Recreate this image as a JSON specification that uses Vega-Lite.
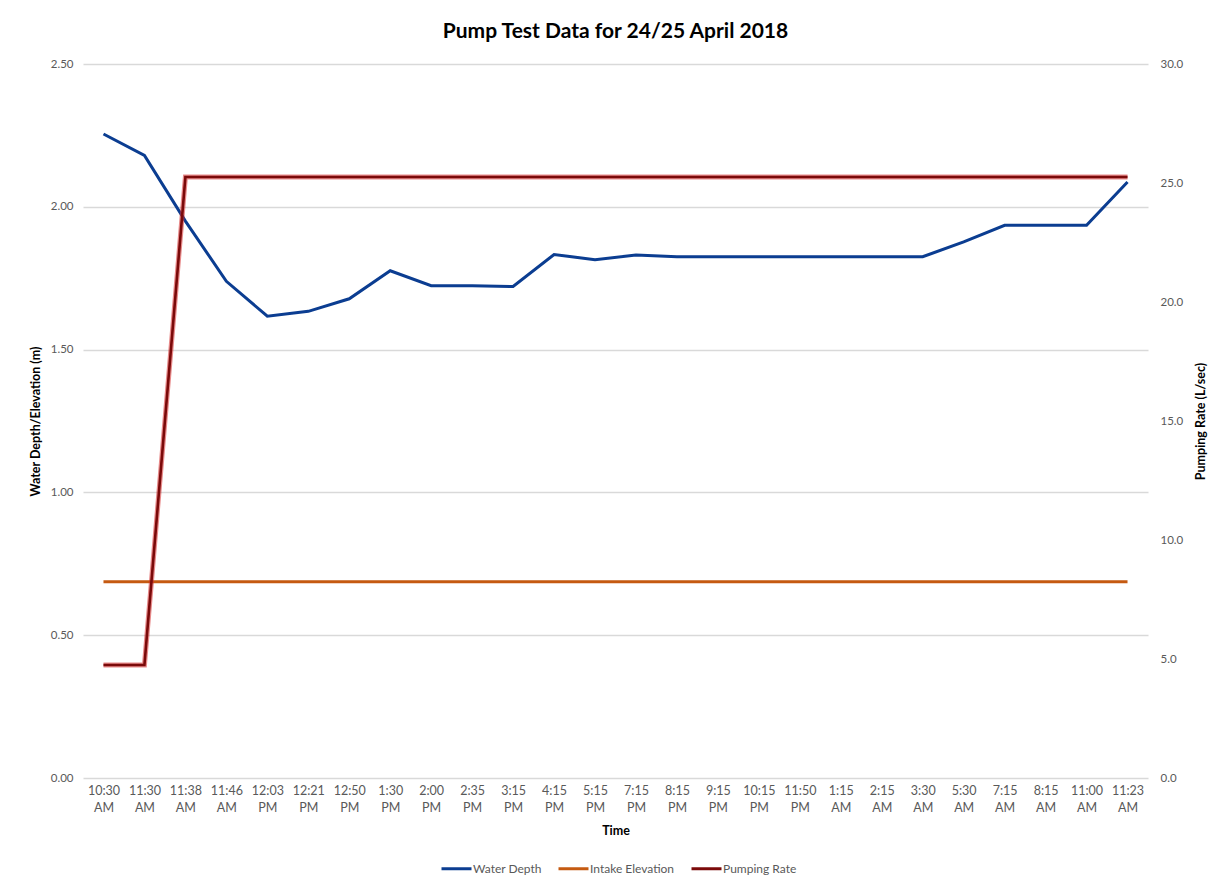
{
  "$schema": "https://vega.github.io/schema/vega-lite/v6.json",
  "width": 1065,
  "height": 714,
  "autosize": {"type": "none"},
  "padding": {"left": 83, "top": 64, "right": 65, "bottom": 108},
  "background": "white",
  "config": {"font": "Lato", "view": {"stroke": null}},
  "title": {"text": "Pump Test Data for 24/25 April 2018", "fontSize": 21, "fontWeight": "bold", "color": "#000000", "offset": 16, "anchor": "middle"},
  "data": {"values": [
    {"t": "10:30 AM", "Water Depth": 2.255, "Intake Elevation": 0.687, "Pumping Rate": 4.75},
    {"t": "11:30 AM", "Water Depth": 2.18, "Intake Elevation": 0.687, "Pumping Rate": 4.75},
    {"t": "11:38 AM", "Water Depth": 1.95, "Intake Elevation": 0.687, "Pumping Rate": 25.25},
    {"t": "11:46 AM", "Water Depth": 1.739, "Intake Elevation": 0.687, "Pumping Rate": 25.25},
    {"t": "12:03 PM", "Water Depth": 1.617, "Intake Elevation": 0.687, "Pumping Rate": 25.25},
    {"t": "12:21 PM", "Water Depth": 1.634, "Intake Elevation": 0.687, "Pumping Rate": 25.25},
    {"t": "12:50 PM", "Water Depth": 1.678, "Intake Elevation": 0.687, "Pumping Rate": 25.25},
    {"t": "1:30 PM", "Water Depth": 1.776, "Intake Elevation": 0.687, "Pumping Rate": 25.25},
    {"t": "2:00 PM", "Water Depth": 1.724, "Intake Elevation": 0.687, "Pumping Rate": 25.25},
    {"t": "2:35 PM", "Water Depth": 1.724, "Intake Elevation": 0.687, "Pumping Rate": 25.25},
    {"t": "3:15 PM", "Water Depth": 1.721, "Intake Elevation": 0.687, "Pumping Rate": 25.25},
    {"t": "4:15 PM", "Water Depth": 1.833, "Intake Elevation": 0.687, "Pumping Rate": 25.25},
    {"t": "5:15 PM", "Water Depth": 1.815, "Intake Elevation": 0.687, "Pumping Rate": 25.25},
    {"t": "7:15 PM", "Water Depth": 1.831, "Intake Elevation": 0.687, "Pumping Rate": 25.25},
    {"t": "8:15 PM", "Water Depth": 1.825, "Intake Elevation": 0.687, "Pumping Rate": 25.25},
    {"t": "9:15 PM", "Water Depth": 1.825, "Intake Elevation": 0.687, "Pumping Rate": 25.25},
    {"t": "10:15 PM", "Water Depth": 1.825, "Intake Elevation": 0.687, "Pumping Rate": 25.25},
    {"t": "11:50 PM", "Water Depth": 1.825, "Intake Elevation": 0.687, "Pumping Rate": 25.25},
    {"t": "1:15 AM", "Water Depth": 1.825, "Intake Elevation": 0.687, "Pumping Rate": 25.25},
    {"t": "2:15 AM", "Water Depth": 1.825, "Intake Elevation": 0.687, "Pumping Rate": 25.25},
    {"t": "3:30 AM", "Water Depth": 1.825, "Intake Elevation": 0.687, "Pumping Rate": 25.25},
    {"t": "5:30 AM", "Water Depth": 1.877, "Intake Elevation": 0.687, "Pumping Rate": 25.25},
    {"t": "7:15 AM", "Water Depth": 1.935, "Intake Elevation": 0.687, "Pumping Rate": 25.25},
    {"t": "8:15 AM", "Water Depth": 1.935, "Intake Elevation": 0.687, "Pumping Rate": 25.25},
    {"t": "11:00 AM", "Water Depth": 1.935, "Intake Elevation": 0.687, "Pumping Rate": 25.25},
    {"t": "11:23 AM", "Water Depth": 2.087, "Intake Elevation": 0.687, "Pumping Rate": 25.25}
  ]},
  "transform": [{"fold": ["Water Depth", "Intake Elevation", "Pumping Rate"], "as": ["series", "value"]}],
  "encoding": {
    "x": {
      "field": "t", "type": "ordinal",
      "sort": ["10:30 AM", "11:30 AM", "11:38 AM", "11:46 AM", "12:03 PM", "12:21 PM", "12:50 PM", "1:30 PM", "2:00 PM", "2:35 PM", "3:15 PM", "4:15 PM", "5:15 PM", "7:15 PM", "8:15 PM", "9:15 PM", "10:15 PM", "11:50 PM", "1:15 AM", "2:15 AM", "3:30 AM", "5:30 AM", "7:15 AM", "8:15 AM", "11:00 AM", "11:23 AM"],
      "axis": {
        "title": "Time", "titleFontSize": 12.5, "titleFontWeight": "bold", "titleColor": "#000000", "titlePadding": 11,
        "labelAngle": 0, "labelExpr": "split(datum.label, ' ')", "labelFontSize": 12.5, "labelColor": "#595959",
        "labelLineHeight": 17, "labelPadding": 6, "ticks": false, "domain": false, "grid": false
      }
    },
    "color": {
      "field": "series", "type": "nominal",
      "scale": {"domain": ["Water Depth", "Intake Elevation", "Pumping Rate"], "range": ["#0b3d91", "#c55a11", "#7b0a0a"]},
      "legend": {
        "title": null, "orient": "none", "legendX": 357, "legendY": 788, "direction": "horizontal",
        "symbolType": "stroke", "symbolSize": 900, "symbolStrokeWidth": 3, "labelFontSize": 12, "labelColor": "#595959",
        "labelOffset": 0, "columnPadding": 10
      }
    }
  },
  "layer": [
    {
      "transform": [{"filter": "datum.series !== 'Pumping Rate'"}],
      "mark": {"type": "line", "strokeWidth": 3},
      "encoding": {
        "y": {
          "field": "value", "type": "quantitative", "scale": {"domain": [0, 2.5], "nice": false},
          "axis": {
            "title": "Water Depth/Elevation (m)", "titleFontSize": 12.5, "titleFontWeight": "bold", "titleColor": "#000000", "titlePadding": 8,
            "values": [0, 0.5, 1, 1.5, 2, 2.5], "format": ".2f", "grid": true, "gridColor": "#d9d9d9", "gridWidth": 1.3,
            "domain": false, "ticks": false, "labelPadding": 10, "labelFontSize": 11.5, "labelColor": "#595959"
          }
        }
      }
    },
    {
      "transform": [{"filter": "datum.series === 'Pumping Rate'"}],
      "mark": {"type": "line", "strokeWidth": 5, "color": "#d42a2a", "opacity": 0.55},
      "encoding": {
        "color": {"value": "#d42a2a"},
        "y": {"field": "value", "type": "quantitative", "scale": {"domain": [0, 30], "nice": false}, "axis": null}
      }
    },
    {
      "transform": [{"filter": "datum.series === 'Pumping Rate'"}],
      "mark": {"type": "line", "strokeWidth": 2.6},
      "encoding": {
        "y": {
          "field": "value", "type": "quantitative", "scale": {"domain": [0, 30], "nice": false},
          "axis": {
            "orient": "right", "title": "Pumping Rate (L/sec)", "titleFontSize": 12.5, "titleFontWeight": "bold", "titleColor": "#000000",
            "titleAngle": 270, "titleX": 56, "titleY": 357, "titleAlign": "center", "titleBaseline": "alphabetic",
            "values": [0, 5, 10, 15, 20, 25, 30], "format": ".1f", "grid": false,
            "domain": false, "ticks": false, "labelPadding": 12, "labelFontSize": 11.5, "labelColor": "#595959"
          }
        }
      }
    }
  ],
  "resolve": {"scale": {"y": "independent"}}
}
